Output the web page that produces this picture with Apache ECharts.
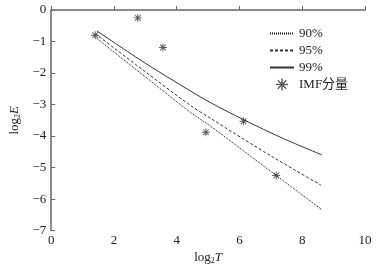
<!DOCTYPE html>
<html>
<head>
<meta charset="utf-8">
<script src="https://cdn.jsdelivr.net/npm/echarts@6/dist/echarts.min.js"></script>
<style>
  html, body { margin: 0; padding: 0; background: #fff; }
  #chart { width: 380px; height: 270px; }
</style>
</head>
<body>
<div id="chart"></div>
<script>
// curves
var x90 = [1.37, 3.0, 4.44, 5.08, 7.17, 8.63]
var y90 = [-0.84, -2.12, -3.25, -3.69, -5.25, -6.34]
var x95 = [1.4, 3.0, 4.44, 5.08, 7.0, 8.6]
var y95 = [-0.75, -1.96, -3.03, -3.44, -4.63, -5.56]
var x99 = [1.45, 3.0, 4.44, 5.08, 6.13, 7.4, 8.63]
var y99 = [-0.66, -1.69, -2.57, -2.94, -3.48, -4.08, -4.6]
// IMF components
var imfX = [1.4, 2.76, 3.56, 4.93, 6.13, 7.17]
var imfY = [-0.8, -0.25, -1.19, -3.88, -3.53, -5.25]
var legendNames = ['90%', '95%', '99%', 'IMF分量']

var font = 'Liberation Serif, Times New Roman, Noto Sans CJK SC, serif'
var ink = '#222'

function pairs(xs, ys) {
    return xs.map(function (x, i) { return [x, ys[i]] })
}

// asterisk made of four thin bars
var star = 'path://M-0.6,-5L0.6,-5L0.6,5L-0.6,5Z' +
    'M-5,-0.6L5,-0.6L5,0.6L-5,0.6Z' +
    'M-3.92,-3.08L-3.08,-3.92L3.92,3.08L3.08,3.92Z' +
    'M-3.92,3.08L3.08,-3.92L3.92,-3.08L-3.08,3.92Z'

var nameRich = {
    a: { fontFamily: font, fontSize: 13, color: ink },
    s: { fontFamily: font, fontSize: 8, color: ink, padding: [6, 0, 0, 0] },
    i: { fontFamily: font, fontSize: 13, fontStyle: 'italic', color: ink }
}

var myChart = echarts.init(document.getElementById('chart'))
myChart.setOption({
    animation: false,
    grid: { left: 50, right: 15, top: 10, bottom: 36 },
    legend: {
        data: legendNames.map(function (n, i) {
            // hide the symbol on the line items, keep it for the asterisk
            return i < 3 ? { name: n, itemStyle: { opacity: 0 } } : { name: n }
        }),
        orient: 'vertical',
        left: 264,
        top: 22,
        itemWidth: 24,
        itemHeight: 12,
        itemGap: 4,
        textStyle: { fontFamily: font, fontSize: 13, color: ink }
    },
    xAxis: {
        type: 'value',
        min: 0,
        max: 10,
        interval: 2,
        name: '{a|log}{s|2}{i|T}',
        nameLocation: 'middle',
        nameGap: 14,
        nameTextStyle: { rich: nameRich },
        splitLine: { show: false },
        axisLine: { lineStyle: { color: '#666', width: 1.5 } },
        axisTick: { inside: true, length: 4, lineStyle: { color: '#666' } },
        axisLabel: { fontFamily: font, fontSize: 13, color: ink, margin: 3 }
    },
    yAxis: {
        type: 'value',
        min: -7,
        max: 0,
        interval: 1,
        name: '{a|log}{s|2}{i|E}',
        nameLocation: 'middle',
        nameGap: 22,
        nameTextStyle: { rich: nameRich },
        splitLine: { show: false },
        axisLine: { show: true, lineStyle: { color: '#666', width: 1.5 } },
        axisTick: { show: true, inside: true, length: 4, lineStyle: { color: '#666' } },
        axisLabel: {
            fontFamily: font, fontSize: 13, color: ink, margin: 5,
            formatter: function (v) { return String(v).replace('-', '\u2212') }
        }
    },
    series: [
        {
            name: legendNames[0],
            type: 'line',
            smooth: 0.3,
            symbol: 'none',
            data: pairs(x90, y90),
            lineStyle: { color: '#111', width: 1, type: [1, 1] },
            itemStyle: { color: '#111' }
        },
        {
            name: legendNames[1],
            type: 'line',
            smooth: 0.3,
            symbol: 'none',
            data: pairs(x95, y95),
            lineStyle: { color: '#333', width: 1, type: [3, 2] },
            itemStyle: { color: '#333' }
        },
        {
            name: legendNames[2],
            type: 'line',
            smooth: 0.3,
            symbol: 'none',
            data: pairs(x99, y99),
            lineStyle: { color: '#333', width: 1 },
            itemStyle: { color: '#333' }
        },
        {
            name: legendNames[3],
            type: 'scatter',
            symbol: star,
            symbolSize: 8,
            data: pairs(imfX, imfY),
            itemStyle: { color: '#333' }
        }
    ]
})
</script>
</body>
</html>
